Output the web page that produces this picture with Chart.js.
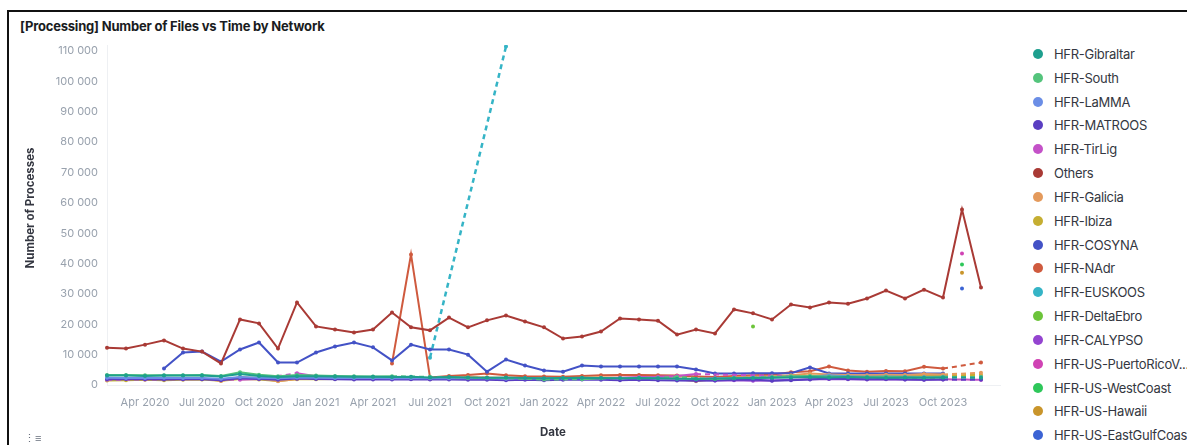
<!DOCTYPE html>
<html>
<head>
<meta charset="utf-8">
<script src="https://cdn.jsdelivr.net/npm/chart.js@4.4.1/dist/chart.umd.min.js"></script>
<style>
    html, body { margin:0; padding:0; background:#fff; overflow:hidden; }
    body { width:1187px; height:445px; position:relative; font-family:Inter, "Noto Sans", sans-serif; }
    #painel { position:absolute; left:7px; top:10px; width:1300px; height:500px; border-left:2px solid #111; border-top:2px solid #111; }
    #titulo { position:absolute; left:20px; top:18px; font-size:13px; font-weight:700; color:#1a1c21; white-space:nowrap; letter-spacing:-0.2px; }
    #graf { position:absolute; left:0; top:0; }
    #tituloY { position:absolute; left:30px; top:208px; transform:translate(-50%,-50%) rotate(-90deg); font-size:11.5px; font-weight:700; color:#343741; white-space:nowrap; }
    #tituloX { position:absolute; left:553px; top:432px; transform:translate(-50%,-50%); font-size:11.5px; font-weight:700; color:#343741; }
    #legenda { position:absolute; left:1030px; top:0; width:157px; height:445px; overflow:hidden; }
    .item { position:absolute; left:0; height:16px; display:flex; align-items:center; white-space:nowrap; font-size:13px; color:#343741; letter-spacing:-0.3px; }
    .item i { display:inline-block; width:10px; height:10px; border-radius:50%; margin-left:3px; margin-right:11px; }
    #icone { position:absolute; left:24px; top:431px; font-size:11px; color:#69707d; }
</style>
</head>
<body>
<div id="painel"></div>
<div id="titulo">[Processing] Number of Files vs Time by Network</div>
<canvas id="graf" width="1010" height="445"></canvas>
<div id="tituloY">Number of Processes</div>
<div id="tituloX">Date</div>
<div id="legenda"></div>
<div id="icone">&#8942;&#8801;</div>

<script>
// meses (Feb 2020 .. Jan 2024)
var meses = ['Feb 2020','Mar 2020','Apr 2020','May 2020','Jun 2020','Jul 2020','Aug 2020','Sep 2020','Oct 2020','Nov 2020','Dec 2020',
    'Jan 2021','Feb 2021','Mar 2021','Apr 2021','May 2021','Jun 2021','Jul 2021','Aug 2021','Sep 2021','Oct 2021','Nov 2021','Dec 2021',
    'Jan 2022','Feb 2022','Mar 2022','Apr 2022','May 2022','Jun 2022','Jul 2022','Aug 2022','Sep 2022','Oct 2022','Nov 2022','Dec 2022',
    'Jan 2023','Feb 2023','Mar 2023','Apr 2023','May 2023','Jun 2023','Jul 2023','Aug 2023','Sep 2023','Oct 2023','Nov 2023','Dec 2023','Jan 2024']

var ticksX = ['Apr 2020','Jul 2020','Oct 2020','Jan 2021','Apr 2021','Jul 2021','Oct 2021','Jan 2022','Apr 2022','Jul 2022','Oct 2022','Jan 2023','Apr 2023','Jul 2023','Oct 2023']
var ticksY = [0,10000,20000,30000,40000,50000,60000,70000,80000,90000,100000,110000]

var redes = ['HFR-Gibraltar','HFR-South','HFR-LaMMA','HFR-MATROOS','HFR-TirLig','Others','HFR-Galicia','HFR-Ibiza','HFR-COSYNA','HFR-NAdr',
    'HFR-EUSKOOS','HFR-DeltaEbro','HFR-CALYPSO','HFR-US-PuertoRicoV...','HFR-US-WestCoast','HFR-US-Hawaii','HFR-US-EastGulfCoast']

var cores = ['#1e9f8e','#54c47c','#6b8ee6','#5a3ec2','#c452c8','#a93a35','#e49a5c','#c5ae32','#4352c6','#cf5a3e',
    '#35b4c6','#6cc43a','#9444d0','#d043b4','#2ec75a','#c9952b','#3b63d4']

var n = null

var gibraltar = [3100,3100,3000,3100,3100,3100,2800,3600,3000,2600,2900,2900,2800,2700,2700,2600,2700,2500,2600,2500,2400,2500,2300,2200,
    2300,2400,2300,2200,2300,2200,2100,2000,2100,2200,2300,2400,2500,2600,2500,2600,2500,2400,2500,2400,2500,n,2400]
var south = [3300,3300,3200,3200,3200,3300,3000,4200,3400,2900,3300,3100,3000,2900,2800,2900,n,2700,n,2400,n,2300,n,1800,
    n,1900,2200,n,2300,n,2600,n,2000,2300,n,2600,2900,3000,2800,2700,2600,2700,2600,2500,2600,n,2600]
var lamma = [2400,2300,2300,2400,2300,2300,2100,2600,2400,2200,2500,2400,2300,2300,2300,2200,2300,2200,2200,2300,2200,2100,2200,2100,
    2200,2300,2200,2200,2300,2200,2100,2000,2200,2300,2400,2500,2600,2700,3200,2900,2700,2800,2700,2600,2700,n,2600]
var matroos = [1900,2000,1900,1800,1900,1900,1600,2200,2000,1700,2100,2000,1900,1800,1800,1800,1900,1800,1800,1700,1700,1600,1700,1600,
    1700,1800,1700,1600,1700,1600,1500,1400,1500,1700,1800,1400,1600,1800,2100,2000,1900,2000,1800,1700,1800,n,1800]
var tirlig = [1700,n,1800,n,1900,2000,n,1700,2000,n,3900,2900,2500,2400,2300,2200,2100,2000,2100,2200,2300,2300,2200,2100,
    2000,2100,2300,2400,2600,2700,3000,3600,n,n,n,n,n,n,n,n,n,n,n,n,1900,n,1700]
var others = [12300,12000,13300,14700,12000,11000,7100,21600,20300,12000,27200,19300,18300,17300,18300,23900,19000,18000,22200,19000,21300,22900,20900,19000,
    15300,16000,17600,21900,21600,21200,16600,18300,17000,24900,23600,21600,26500,25500,27200,26800,28500,31100,28500,31400,28800,57800,32100]
var galicia = [2000,2100,2000,1900,2000,2200,1300,2600,2200,1200,2000,2100,2200,2300,2400,2500,2300,2000,2400,2600,2500,2300,2200,2000,
    2200,2400,2500,2400,2300,2300,2000,1200,2000,2500,2800,2900,3200,3800,3500,3300,3200,3400,3300,3600,3500,n,4000]
var ibiza = [1500,1600,1700,1600,1700,1800,1400,2000,1800,1300,1900,1900,2000,2100,2200,2300,2200,2000,2200,2300,2300,2200,2100,2000,
    2100,2300,2400,2300,2400,2300,2200,2000,2100,2400,2500,2600,2800,3000,3100,3000,2900,3000,3100,3200,3200,n,3300]
var cosyna = [n,n,n,5400,10700,11000,7700,11700,14000,7400,7400,10700,12700,14000,12400,8100,13300,11700,11700,10000,4400,8400,6400,4800,
    4400,6400,6100,6100,6100,6100,6100,5100,3800,3800,3900,3900,3900,5800,3800,3800,3800,3800,3800,3800,3800,n,n]
var nadr = [n,n,n,n,n,n,n,n,n,n,n,n,n,n,n,7100,43000,2500,3000,3300,3800,3200,2900,2800,
    2700,3000,3200,3300,3300,3200,3100,2800,2600,3000,3200,3400,4200,4500,6100,4800,4400,4600,4500,6000,5400,n,7400]
var euskoos = [n,n,n,n,n,n,n,n,n,n,n,n,n,n,n,n,n,9000,n,n,n,111500]
var deltaebro = [n,n,n,n,n,n,n,n,n,n,n,n,n,n,n,n,n,n,n,n,n,n,n,n,n,n,n,n,n,n,n,n,n,n,19300]
var calypso = [n,n,n,n,n,n,n,n,n,n,n,n,n,n,n,n,n,n,n,n,n,n,n,n,
    n,n,n,n,n,n,1800,1700,1500,1600,1400,1500,1700,1900,2000,1900,1800,1900,1800,1700,1800,n,1700]
var puertorico = [n,n,n,n,n,n,n,n,n,n,n,n,n,n,n,n,n,n,n,n,n,n,n,n,n,n,n,n,n,n,n,n,n,n,n,n,n,n,n,n,n,n,n,n,n,43300]
var westcoast = [n,n,n,n,n,n,n,n,n,n,n,n,n,n,n,n,n,n,n,n,n,n,n,n,n,n,n,n,n,n,n,n,n,n,n,n,n,n,n,n,n,n,n,n,n,39700]
var hawaii = [n,n,n,n,n,n,n,n,n,n,n,n,n,n,n,n,n,n,n,n,n,n,n,n,n,n,n,n,n,n,n,n,n,n,n,n,n,n,n,n,n,n,n,n,n,37000]
var eastgulf = [n,n,n,n,n,n,n,n,n,n,n,n,n,n,n,n,n,n,n,n,n,n,n,n,n,n,n,n,n,n,n,n,n,n,n,n,n,n,n,n,n,n,n,n,n,31800]

var series = [gibraltar,south,lamma,matroos,tirlig,others,galicia,ibiza,cosyna,nadr,euskoos,deltaebro,calypso,puertorico,westcoast,hawaii,eastgulf]

/**
 * @description: formata numero com espaco de milhar
*/
function formatarNumero(v){
    return String(v).replace(/\B(?=(\d{3})+(?!\d))/g, ' ')
}

/**
 * @description: monta a legenda lateral
*/
function montarLegenda(){
    var html = ''
    for(var i = 0; i < redes.length; i++){
        var topo = 46 + i * 23.83
        html += '<div class="item" style="top:' + topo + 'px"><i style="background:' + cores[i] + '"></i>' + redes[i] + '</div>'
    }
    document.getElementById('legenda').innerHTML = html
}

/**
 * @description: tracejado quando a linha pula meses sem valor
*/
function tracoLacuna(ctx){
    if(ctx.p0.skip || ctx.p1.skip) return [5,4]
    return undefined
}

/**
 * @description: gera grafico de linhas
*/
function gerarLinhas(){
    var datasets = []
    for(var i = 0; i < series.length; i++){
        datasets.push({
            label: redes[i],
            data: series[i],
            borderColor: cores[i],
            backgroundColor: cores[i],
            borderWidth: redes[i] == 'HFR-EUSKOOS' ? 2.5 : 2,
            pointRadius: 2,
            pointBorderWidth: 0,
            tension: 0,
            spanGaps: true,
            segment: { borderDash: tracoLacuna }
        })
    }

    var cinza = '#98a1ad'

    new Chart(document.getElementById('graf').getContext('2d'), {
        type: 'line',
        data: { labels: meses, datasets: datasets },
        options: {
            responsive: false,
            animation: false,
            layout: { padding: { top: 45, right: 10, left: 0, bottom: 0 } },
            plugins: { legend: { display: false }, tooltip: { enabled: false } },
            scales: {
                x: {
                    type: 'category',
                    offset: false,
                    grid: { display: false, drawTicks: false },
                    border: { display: true, color: '#eef0f3', width: 1 },
                    afterFit: function(s){ s.height = 60 },
                    afterBuildTicks: function(s){
                        s.ticks = ticksX.map(function(t){ return { value: meses.indexOf(t) } })
                    },
                    ticks: {
                        autoSkip: false,
                        maxRotation: 0,
                        padding: 11,
                        color: cinza,
                        font: { family: 'Inter', size: 11 },
                        callback: function(v){ return meses[v] }
                    }
                },
                y: {
                    min: 0,
                    max: 112000,
                    grid: { display: false, drawTicks: false },
                    border: { display: true, color: '#eef0f3', width: 1 },
                    afterFit: function(s){ s.width = 107 },
                    afterBuildTicks: function(s){
                        s.ticks = ticksY.map(function(v){ return { value: v } })
                    },
                    ticks: {
                        padding: 9,
                        color: cinza,
                        font: { family: 'Inter', size: 11 },
                        callback: function(v){ return formatarNumero(v) }
                    }
                }
            }
        }
    })
}

montarLegenda()
gerarLinhas()
</script>
</body>
</html>
